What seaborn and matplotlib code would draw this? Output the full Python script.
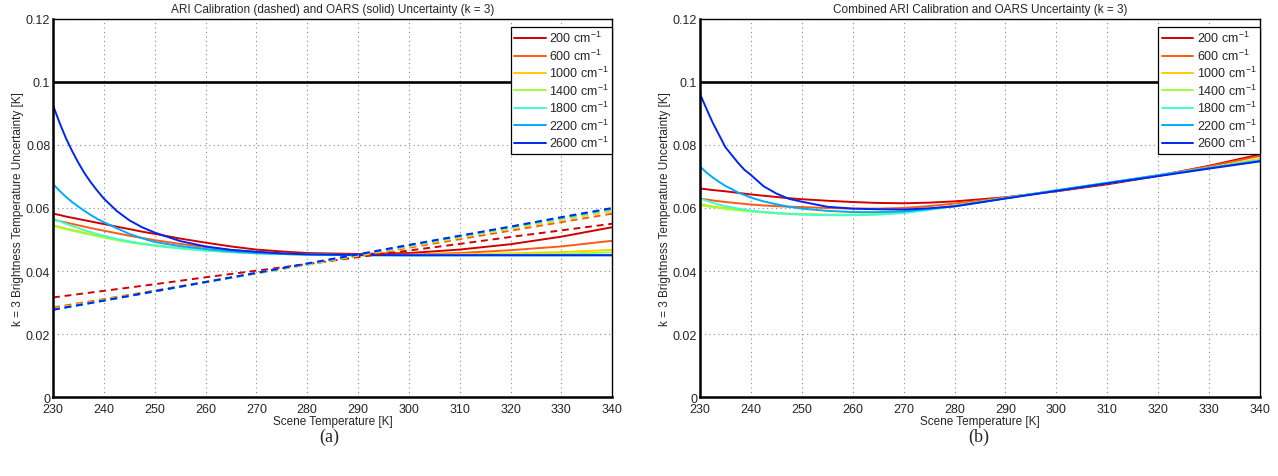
import numpy as np
import pandas as pd
import matplotlib
matplotlib.use("Agg")
import matplotlib.pyplot as plt
import seaborn as sns

# wavenumbers and colours (jet-like, as in the original)
wavenumbers = [200, 600, 1000, 1400, 1800, 2200, 2600]
colors = ['#d10000', '#ff5a14', '#ffcc00', '#9cff3c', '#3cffd2', '#00aaff', '#0026f0']

# scene temperature grid for OARS and combined curves
temps = [230, 231.25, 232.5, 233.75, 235, 236.25, 237.5, 238.75, 240, 242.5, 245, 247.5, 250,
         255, 260, 265, 270, 275, 280, 290, 300, 310, 320, 330, 340]
# ARI calibration (dashed) sampled every 10 K
temps_ari = [230, 240, 250, 260, 270, 280, 290, 300, 310, 320, 330, 340]

# (a) OARS uncertainty, solid
oars_200 = [.0582, .0578, .0573, .0569, .0565, .0561, .0557, .0553, .0549, .0541, .0533, .0525, .0518,
            .0503, .0490, .0478, .0468, .0462, .0457, .0454, .0457, .0468, .0485, .0509, .0539]
oars_600 = [.0563, .05585, .0554, .05495, .0545, .05405, .0536, .0532, .0528, .0520, .0512, .0505, .0498,
            .0486, .0476, .0467, .0460, .0456, .0453, .0451, .0452, .0457, .0466, .0478, .0496]
oars_1000 = [.0545, .0540, .0535, .0530, .0526, .0521, .0517, .0512, .0508, .0500, .0493, .0487, .0482,
             .0473, .0466, .0461, .0457, .0454, .0452, .0451, .0451, .0453, .0456, .0460, .0467]
oars_1400 = [.0543, .0538, .0533, .0528, .0524, .0519, .0515, .0510, .0506, .0498, .0491, .0485, .0480,
             .0472, .0465, .0460, .0456, .0454, .0452, .0450, .0450, .0451, .0453, .0455, .0459]
oars_1800 = [.0566, .0558, .0550, .0543, .0536, .0529, .0523, .0517, .0512, .0502, .0494, .0487, .0481,
             .0472, .0465, .0460, .0456, .0454, .0452, .0450, .0450, .0450, .0450, .0450, .0451]
oars_2200 = [.0676, .0655, .0636, .0619, .0604, .0590, .0577, .0565, .0555, .0536, .0518, .0504, .0492,
             .0479, .0470, .0462, .0457, .0454, .0452, .0450, .0450, .0450, .0450, .0450, .0450]
oars_2600 = [.0926, .0872, .0823, .0781, .0743, .0709, .0680, .0654, .0630, .0591, .0561, .0539, .0522,
             .0495, .0478, .0467, .0461, .0456, .0453, .0451, .0450, .0450, .0450, .0450, .0450]

# (a) ARI calibration uncertainty, dashed
ari_200 = [.0316, .0337, .0358, .0380, .0401, .0422, .0444, .0465, .0486, .0508, .0529, .0550]
ari_600 = [.0284, .0311, .0338, .0365, .0392, .0420, .0447, .0474, .0501, .0528, .0555, .0582]
ari_1000 = [.0280, .0308, .0336, .0365, .0393, .0421, .0449, .0477, .0506, .0534, .0562, .0590]
ari_1400 = [.0278, .0307, .0335, .0364, .0393, .0421, .0450, .0479, .0508, .0536, .0565, .0594]
ari_1800 = [.0277, .0306, .0335, .0364, .0393, .0422, .0452, .0481, .0510, .0539, .0568, .0597]
ari_2200 = [.0277, .0306, .0335, .0365, .0394, .0423, .0452, .0481, .0511, .0540, .0569, .0598]
ari_2600 = [.0277, .0306, .0336, .0365, .0394, .0424, .0453, .0483, .0512, .0541, .0571, .0600]

# (b) combined uncertainty
comb_200 = [.0662, .06595, .0657, .0655, .0653, .06505, .0648, .06455, .0643, .0639, .0635, .0631, .0628,
            .0623, .0619, .0616, .0615, .0617, .0621, .0634, .0653, .0675, .0702, .0734, .0770]
comb_600 = [.0630, .0627, .0624, .06215, .0619, .0617, .0615, .0613, .0611, .0608, .0606, .0604, .0603,
            .0600, .0598, .0598, .0600, .0606, .0614, .0633, .0655, .0679, .0704, .0732, .0765]
comb_1000 = [.0612, .06085, .0605, .06025, .0600, .05975, .0595, .05925, .0590, .0587, .0584, .0582, .0581,
             .0579, .0579, .0581, .0586, .0596, .0608, .0631, .0655, .0679, .0703, .0728, .0756]
comb_1400 = [.0609, .0606, .0603, .0600, .0597, .0595, .0593, .0591, .0589, .0586, .0583, .0581, .0580,
             .0578, .0578, .0580, .0585, .0595, .0607, .0631, .0655, .0679, .0703, .0727, .0753]
comb_1800 = [.0630, .0623, .0617, .0611, .0606, .0602, .0598, .0595, .0592, .0587, .0584, .0581, .0579,
             .0577, .0577, .0579, .0584, .0594, .0606, .0631, .0656, .0680, .0703, .0727, .0751]
comb_2200 = [.0732, .0713, .0697, .0683, .0670, .0660, .0649, .0641, .0633, .0621, .0612, .0604, .0598,
             .0591, .0587, .0587, .0589, .0597, .0606, .0631, .0656, .0680, .0704, .0727, .0750]
comb_2600 = [.0962, .0916, .0871, .0832, .0793, .0768, .0743, .0721, .0705, .0669, .0646, .0629, .0620,
             .0604, .0598, .0596, .0595, .0599, .0605, .0630, .0654, .0678, .0701, .0725, .0748]

oars = [oars_200, oars_600, oars_1000, oars_1400, oars_1800, oars_2200, oars_2600]
ari = [ari_200, ari_600, ari_1000, ari_1400, ari_1800, ari_2200, ari_2600]
comb = [comb_200, comb_600, comb_1000, comb_1400, comb_1800, comb_2200, comb_2600]

sns.set_style('white')
plt.rcParams['font.family'] = ['Liberation Sans', 'DejaVu Sans']
plt.rcParams['mathtext.fontset'] = 'custom'
plt.rcParams['mathtext.rm'] = 'Liberation Sans'
plt.rcParams['mathtext.it'] = 'Liberation Sans'

fig = plt.figure(figsize=(12.78, 4.77), dpi=100)
ax1 = fig.add_axes([0.0415, 0.1656, 0.4375, 0.7925])
ax2 = fig.add_axes([0.5477, 0.1656, 0.4382, 0.7925])


def style_axis(ax, title):
    ax.set_xlim(230, 340)
    ax.set_ylim(0, 0.12)
    ax.set_xticks(range(230, 341, 10))
    ax.set_yticks([0, 0.02, 0.04, 0.06, 0.08, 0.1, 0.12])
    ax.set_yticklabels(['0', '0.02', '0.04', '0.06', '0.08', '0.1', '0.12'])
    ax.tick_params(direction='in', length=4, labelsize=9, width=1, color='black')
    ax.tick_params(axis='x', pad=4)
    ax.tick_params(axis='y', pad=2)
    ax.grid(True, linestyle=(0, (1, 3)), color='#888888', linewidth=0.8)
    for s in ax.spines.values():
        s.set_color('black')
        s.set_linewidth(1.0)
    ax.spines['left'].set_linewidth(1.8)
    ax.spines['bottom'].set_linewidth(1.8)
    ax.set_title(title, fontsize=8.5, pad=5)
    ax.set_xlabel('Scene Temperature [K]', fontsize=8.5, labelpad=0)
    ax.set_ylabel('k = 3 Brightness Temperature Uncertainty [K]', fontsize=8.5, labelpad=1)
    ax.axhline(0.1, color='black', linewidth=1.9, zorder=3)
    leg = ax.legend(loc='upper right', bbox_to_anchor=(1.0, 0.98), fontsize=9, frameon=True,
                    fancybox=False, edgecolor='black', framealpha=1, borderaxespad=0.0,
                    handlelength=2.5, labelspacing=0.18, handletextpad=0.25, borderpad=0.3)
    leg.get_frame().set_linewidth(0.9)


for wn, col, ys in zip(wavenumbers, colors, oars):
    sns.lineplot(x=temps, y=ys, color=col, linewidth=1.4, ax=ax1,
                 label=f'{wn} cm$^{{-1}}$')
for wn, col, ys in zip(wavenumbers, colors, ari):
    sns.lineplot(x=temps_ari, y=ys, color=col, linewidth=1.4, ax=ax1,
                 linestyle=(0, (3.5, 2.5)), label='_nolegend_')
for wn, col, ys in zip(wavenumbers, colors, comb):
    sns.lineplot(x=temps, y=ys, color=col, linewidth=1.4, ax=ax2,
                 label=f'{wn} cm$^{{-1}}$')

style_axis(ax1, 'ARI Calibration (dashed) and OARS (solid) Uncertainty (k = 3)')
style_axis(ax2, 'Combined ARI Calibration and OARS Uncertainty (k = 3)')

fig.text(0.258, 0.083, '(a)', ha='center', va='center', fontsize=13, family='Liberation Serif')
fig.text(0.766, 0.083, '(b)', ha='center', va='center', fontsize=13, family='Liberation Serif')

fig.savefig('out.png', dpi=100)
